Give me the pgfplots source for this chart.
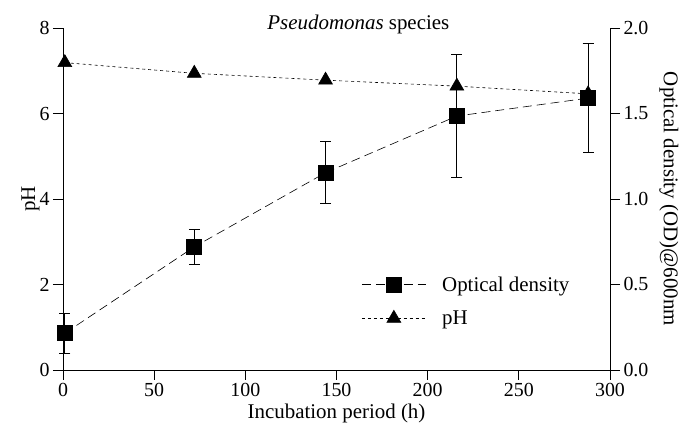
\documentclass[border=0pt]{standalone}
\usepackage{fontspec}
\setmainfont{Liberation Serif}
\usepackage{pgfplots}
\pgfplotsset{compat=1.18}
\begin{document}
\begin{tikzpicture}
\pgfplotsset{
  common/.style={
    scale only axis, width=547bp, height=342bp,
    xmin=0, xmax=300, clip=false,
    tick align=outside, major tick length=10bp,
    axis line style={line width=0.8pt},
    tick style={line width=0.8pt, black},
    tick label style={font=\fontsize{20}{24}\selectfont},
    label style={font=\fontsize{21}{25}\selectfont},
    /pgf/number format/assume math mode=true,
  }
}
\begin{axis}[common, axis x line*=bottom, axis y line*=left,
  ymin=0, ymax=8, ytick={0,2,...,8}, xtick={0,50,...,300},
  xlabel={Incubation period (h)}, ylabel={pH},
  ylabel style={yshift=-7bp}]
\node[anchor=base, font=\fontsize{21}{25}\selectfont] at (rel axis cs:0.54,0.997) {\textit{Pseudomonas} species};
\addplot[black, line width=0.6pt, dash pattern=on 3pt off 3pt, mark=triangle*, mark size=8bp, mark options={solid}]
  coordinates {(1,7.19) (72,6.94) (144,6.78) (216,6.64) (288,6.46)};
\end{axis}
\begin{axis}[common, axis x line=none, axis y line*=right,
  ymin=0, ymax=2, ytick={0,0.5,...,2},
  yticklabel style={/pgf/number format/fixed, /pgf/number format/fixed zerofill, /pgf/number format/precision=1},
  ylabel={Optical density (OD)@600nm}, ylabel style={rotate=180, yshift=4bp},
  legend style={draw=none, fill=none, at={(0.54,0.285)}, anchor=north west,
    font=\fontsize{21}{25}\selectfont, column sep=14bp, row sep=14bp},
  legend cell align=left,
  legend image code/.code={\draw[mark repeat=2, mark phase=2, #1] plot coordinates {(0bp,0bp) (32bp,0bp) (64bp,0bp)};}]
\addplot[black, line width=0.6pt, dash pattern=on 9pt off 5pt, mark=square*, mark size=7.5bp, mark options={solid},
  error bars/.cd, y dir=both, y explicit,
  error mark options={rotate=90, mark size=5.5bp, solid, line width=0.8pt, black},
  error bar style={solid, line width=0.8pt, black}]
  coordinates {(1,0.215) +- (0,0.115) (72,0.72) +- (0,0.105) (144,1.154) +- (0,0.18) (216,1.485) +- (0,0.36) (288,1.59) +- (0,0.32)};
\addlegendentry{Optical density}
\addlegendimage{black, line width=0.6pt, dash pattern=on 3pt off 3pt, mark=triangle*, mark size=8bp, mark options={solid}}
\addlegendentry{pH}
\end{axis}
\pgfresetboundingbox
\path (-63bp,-74bp) rectangle (618bp,370bp);
\end{tikzpicture}
\end{document}
